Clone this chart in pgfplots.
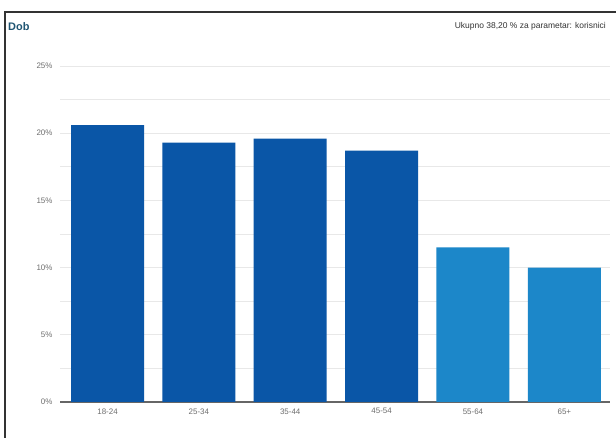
\documentclass[border=0pt]{standalone}
\usepackage{pgfplots}
\pgfplotsset{compat=1.18}
\usepackage{fontspec}
\setmainfont{Liberation Sans}
\definecolor{darkbar}{HTML}{0A56A7}
\definecolor{lightbar}{HTML}{1C87C9}
\definecolor{titlecol}{HTML}{1F5573}
\definecolor{gridcol}{HTML}{E8E8E8}
\definecolor{tickcol}{HTML}{6E6E6E}
\begin{document}
\begin{tikzpicture}[x=1bp,y=1bp]
\useasboundingbox (0,0) rectangle (616,438);
\fill[white] (0,0) rectangle (616,438);
\draw[line width=1.3bp, black!80] (5,0) -- (5,426) -- (616,426);
\node[anchor=west, font=\fontsize{11}{13}\selectfont\bfseries, text=titlecol, inner sep=0] at (8,411) {Dob};
\node[anchor=east, font=\fontsize{8.5}{10}\selectfont, text=black!80, inner sep=0] at (606,412) {Ukupno 38,20 \% za parametar: korisnici};
\begin{axis}[
  at={(60bp,36bp)}, anchor=south west,
  scale only axis, width=550bp, height=336bp,
  xmin=-0.52, xmax=5.5, ymin=0, ymax=25,
  axis x line*=bottom, axis y line*=left,
  x axis line style={draw=black!60, line width=1.3bp},
  y axis line style={draw=none},
  ytick={0,5,10,15,20,25},
  minor ytick={2.5,7.5,12.5,17.5,22.5},
  ymajorgrids, yminorgrids,
  major grid style={gridcol, line width=0.8bp},
  minor grid style={gridcol, line width=0.8bp},
  xtick={0,1,2,3,4,5},
  xticklabels={18-24,25-34,35-44,45-54,55-64,65+},
  major tick length=0pt, minor tick length=0pt,
  tick label style={font=\fontsize{8}{9}\selectfont, text=tickcol},
  /pgf/number format/assume math mode=true,
  yticklabel={\pgfmathprintnumber{\tick}\%},
  yticklabel style={anchor=east, xshift=-4bp},
  xticklabel style={yshift=-3bp},
  ybar, bar width=73bp, bar shift=0pt,
  clip=false,
]
\addplot[fill=darkbar, draw=none] coordinates {(0,20.6) (1,19.3) (2,19.6) (3,18.7)};
\addplot[fill=lightbar, draw=none] coordinates {(4,11.5) (5,10.0)};
\end{axis}
\end{tikzpicture}
\end{document}
